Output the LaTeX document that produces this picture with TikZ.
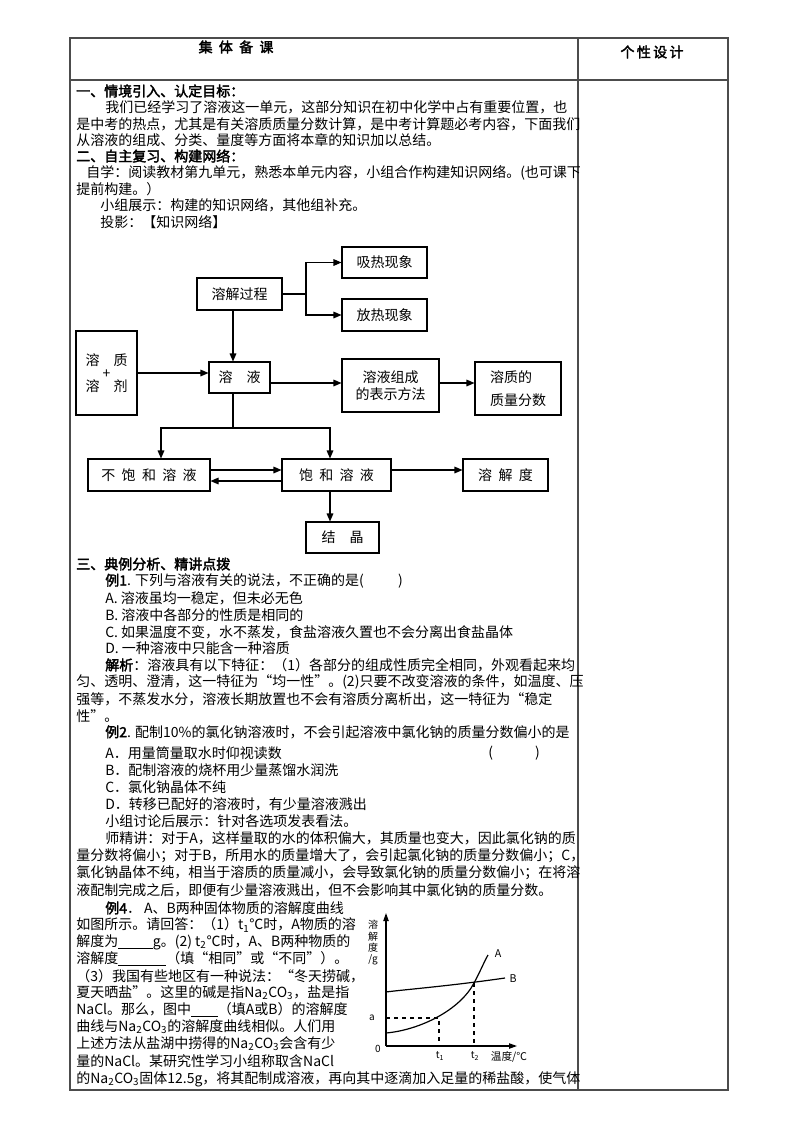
\documentclass[tikz,border=0pt]{standalone}
\usepackage{fontspec}
\setmainfont{Noto Sans CJK SC}[AutoFakeBold=2.5]
\usetikzlibrary{arrows.meta}
\newcommand\Ln[3]{\node[ln] (L#2) at (#1,#2) {#3};}
\begin{document}
\begin{tikzpicture}[x=0.75pt,y=-0.75pt,
  ln/.style={anchor=west,inner sep=0pt,font=\fontsize{10.5}{12}\selectfont},
  hd/.style={anchor=west,inner sep=0pt,font=\fontsize{10.5}{12}\selectfont\bfseries},
  bx/.style={draw,line width=0.8pt,inner sep=0pt,font=\fontsize{10.5}{13}\selectfont},
  ar/.style={line width=0.8pt,-{Triangle[length=6pt,width=5pt]}},
  pl/.style={line width=0.8pt}]
\useasboundingbox (0,0) rectangle (800,1132);
% table
\draw[line width=0.8pt,black!70] (70,38) rectangle (728,1090);
\draw[line width=0.8pt,black!70] (70,80) -- (728,80);
\draw[line width=0.8pt,black!70] (578,38) -- (578,1090);
\node[font=\fontsize{10.5}{12}\selectfont\bfseries] (h1) at (236,47) {集\ \ 体\ \ 备\ \ 课};
\node[font=\fontsize{10.5}{12}\selectfont\bfseries] (h2) at (652,52) {个\,性\,设\,计};
% section 1,2
\node[hd] (s1) at (76,91) {一、情境引入、认定目标：};
\Ln{105}{107}{我们已经学习了溶液这一单元，这部分知识在初中化学中占有重要位置，也}
\Ln{76}{124}{是中考的热点，尤其是有关溶质质量分数计算，是中考计算题必考内容，下面我们}
\Ln{76}{140}{从溶液的组成、分类、量度等方面将本章的知识加以总结。}
\node[hd] (s2) at (76,156) {二、自主复习、构建网络：};
\Ln{86}{173}{自学：阅读教材第九单元，熟悉本单元内容，小组合作构建知识网络。(也可课下}
\Ln{76}{189}{提前构建。）}
\Ln{100}{205}{小组展示：构建的知识网络，其他组补充。}
\Ln{100}{222}{投影：【知识网络】}
% diagram
\node[bx,minimum width=63.75pt,minimum height=23.25pt] (xr) at (384.5,262.5) {吸热现象};
\node[bx,minimum width=63.75pt,minimum height=24pt] (rj) at (239.5,294) {溶解过程};
\node[bx,minimum width=63.75pt,minimum height=24pt] (fr) at (384.5,315) {放热现象};
\node[bx,minimum width=45.75pt,minimum height=63pt,align=center] (rz) at (106.5,373) {溶\quad 质\\[-3pt]+\\[-3pt]溶\quad 剂};
\node[bx,minimum width=45.75pt,minimum height=23.25pt] (ry) at (239.5,377.5) {溶\quad 液};
\node[bx,minimum width=72.75pt,minimum height=39.75pt,align=center] (zc) at (390.5,385.5) {溶液组成\\的表示方法};
\node[bx,minimum width=64.5pt,minimum height=39.75pt,align=left] (zl) at (518,388.5) {溶质的\\[4pt]质量分数};
\node[bx,minimum width=91.5pt,minimum height=24pt] (bb) at (149,475) {不\ \ 饱\ \ 和\ \ 溶\ \ 液};
\node[bx,minimum width=81.75pt,minimum height=24pt] (bh) at (336.5,475) {饱\ \ 和\ \ 溶\ \ 液};
\node[bx,minimum width=63.75pt,minimum height=24pt] (rjd) at (505.5,475) {溶\ \ 解\ \ 度};
\node[bx,minimum width=54.75pt,minimum height=23.25pt] (jj) at (342.5,537.5) {结\quad 晶};
\coordinate (j1) at (306,294);
\draw[pl] (rj.east) -- (j1);
\draw[ar] (j1) |- (xr.west);
\draw[ar] (j1) |- (fr.west);
\draw[ar] (rj.south -| 233,0) -- (ry.north -| 233,0);
\draw[ar] (rz.east |- 0,373) -- (ry.west |- 0,373);
\draw[ar] (ry.east |- 0,383) -- (zc.west |- 0,383);
\draw[ar] (zc.east |- 0,383) -- (zl.west |- 0,383);
\coordinate (j2) at (233,428);
\draw[pl] (ry.south -| j2) -- (j2);
\draw[ar] (j2) -| (bb.north -| 161,0);
\draw[ar] (j2) -| (bh.north -| 330,0);
\draw[ar] (bb.east |- 0,470) -- (bh.west |- 0,470);
\draw[ar] (bh.west |- 0,481) -- (bb.east |- 0,481);
\draw[ar] (bh.east |- 0,470) -- (rjd.west |- 0,470);
\draw[ar] (bh.south -| 330,0) -- (jj.north -| 330,0);
% section 3
\node[hd] (s3) at (76,564) {三、典例分析、精讲点拨};
\node[ln] (e1) at (105,581) {\textbf{例1}. 下列与溶液有关的说法，不正确的是(\qquad\ \ )};
\Ln{105}{598}{A. 溶液虽均一稳定，但未必无色}
\Ln{105}{615}{B. 溶液中各部分的性质是相同的}
\Ln{105}{632}{C. 如果温度不变，水不蒸发，食盐溶液久置也不会分离出食盐晶体}
\Ln{105}{648}{D. 一种溶液中只能含一种溶质}
\node[ln] (jx) at (105,665) {\textbf{解析}：溶液具有以下特征：（1）各部分的组成性质完全相同，外观看起来均};
\Ln{76}{682}{匀、透明、澄清，这一特征为“均一性”。(2)只要不改变溶液的条件，如温度、压}
\Ln{76}{699}{强等，不蒸发水分，溶液长期放置也不会有溶质分离析出，这一特征为“稳定}
\Ln{76}{716}{性”。}
\node[ln] (e2) at (105,732) {\textbf{例2}. 配制10\%的氯化钠溶液时，不会引起溶液中氯化钠的质量分数偏小的是};
\Ln{105}{753}{A．用量筒量取水时仰视读数}
\node[ln] (pa) at (488,753) {(\qquad\quad )};
\Ln{105}{770}{B．配制溶液的烧杯用少量蒸馏水润洗}
\Ln{105}{787}{C．氯化钠晶体不纯}
\Ln{105}{804}{D．转移已配好的溶液时，有少量溶液溅出}
\Ln{105}{821}{小组讨论后展示：针对各选项发表看法。}
\Ln{105}{838}{师精讲：对于A，这样量取的水的体积偏大，其质量也变大，因此氯化钠的质}
\Ln{76}{856}{量分数将偏小；对于B，所用水的质量增大了，会引起氯化钠的质量分数偏小；C，}
\Ln{76}{873}{氯化钠晶体不纯，相当于溶质的质量减小，会导致氯化钠的质量分数偏小；在将溶}
\Ln{76}{890}{液配制完成之后，即便有少量溶液溅出，但不会影响其中氯化钠的质量分数。}
% example 4
\node[ln] (e4) at (105,908) {\textbf{例4}．\ A、B两种固体物质的溶解度曲线};
\Ln{76}{925}{如图所示。请回答：（1）t\textsubscript{1}℃时，A物质的溶}
\Ln{76}{942}{解度为\underline{\hspace{26pt}}g。(2) t\textsubscript{2}℃时，A、B两种物质的}
\Ln{76}{959}{溶解度\underline{\hspace{36pt}}（填“相同”或“不同”）。}
\Ln{76}{976}{（3）我国有些地区有一种说法：“冬天捞碱，}
\Ln{76}{993}{夏天晒盐”。这里的碱是指Na\textsubscript{2}CO\textsubscript{3}，盐是指}
\Ln{76}{1010}{NaCl。那么，图中\underline{\hspace{20pt}}（填A或B）的溶解度}
\Ln{76}{1027}{曲线与Na\textsubscript{2}CO\textsubscript{3}的溶解度曲线相似。人们用}
\Ln{76}{1044}{上述方法从盐湖中捞得的Na\textsubscript{2}CO\textsubscript{3}会含有少}
\Ln{76}{1061}{量的NaCl。某研究性学习小组称取含NaCl}
\Ln{76}{1079}{的Na\textsubscript{2}CO\textsubscript{3}固体12.5g，将其配制成溶液，再向其中逐滴加入足量的稀盐酸，使气体}
% chart
\coordinate (O) at (386,1046);
\draw[line width=0.9pt,-{Triangle[length=6pt,width=4pt]}] (O) -- (386,913);
\draw[line width=0.9pt,-{Triangle[length=6pt,width=4pt]}] (O) -- (517,1046);
\node[font=\fontsize{7.5}{8.5}\selectfont,align=center,inner sep=0pt] (yl) at (373,943) {溶\\解\\度\\/g};
\node[font=\fontsize{7.5}{8}\selectfont,inner sep=0pt] (z0) at (378,1049) {0};
\node[font=\fontsize{7.5}{8}\selectfont,inner sep=0pt] (za) at (372,1018) {a};
\node[font=\fontsize{7.5}{8}\selectfont,inner sep=0pt] (t1) at (440,1056) {t\textsubscript{1}};
\node[font=\fontsize{7.5}{8}\selectfont,inner sep=0pt] (t2) at (475,1056) {t\textsubscript{2}};
\node[font=\fontsize{8}{9}\selectfont,inner sep=0pt] (tl) at (509,1057) {温度/℃};
\draw[line width=0.9pt] (386,1033) .. controls (420,1030) and (460,1010) .. (474,983) .. controls (480,972) and (484,962) .. (488,955);
\node[font=\fontsize{8}{9}\selectfont,inner sep=0pt] (la) at (498,954) {A};
\draw[line width=0.9pt] (386,992) .. controls (400,990) and (450,986) .. (505,978);
\node[font=\fontsize{8}{9}\selectfont,inner sep=0pt] (lb) at (513,979) {B};
\draw[line width=0.8pt,dashed] (386,1018) -- (439,1018) -- (439,1046);
\draw[line width=0.8pt,dashed] (474,983) -- (474,1046);
\end{tikzpicture}
\end{document}
